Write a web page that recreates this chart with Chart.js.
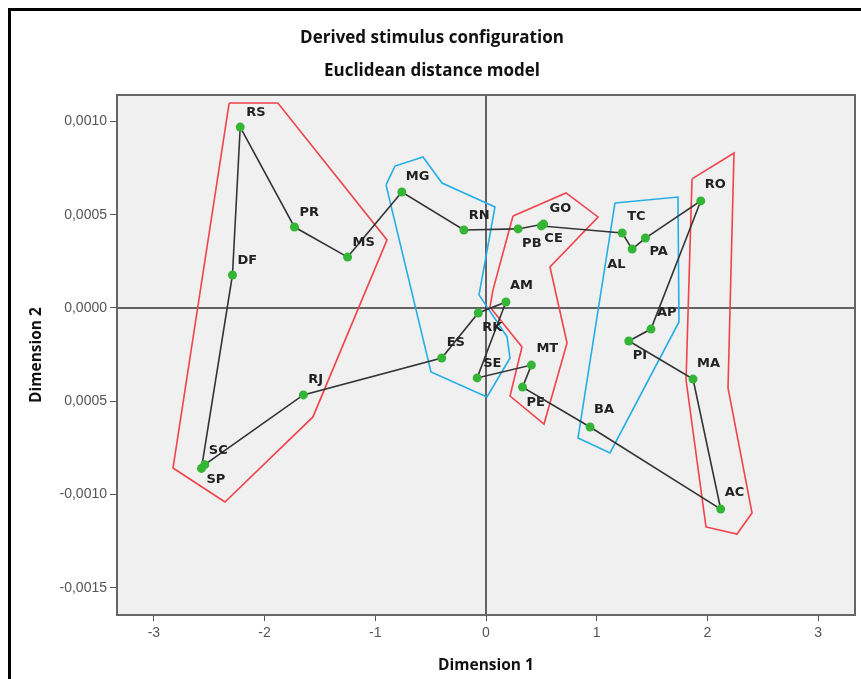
<!DOCTYPE html>
<html>
<head>
<meta charset="utf-8">
<script src="https://cdn.jsdelivr.net/npm/chart.js@4.4.1/dist/chart.umd.min.js"></script>
<style>
  html, body { margin: 0; padding: 0; background: #fff; overflow: hidden; }
  #wrap { position: relative; width: 861px; height: 679px; }
  #frame { position: absolute; left: 8px; top: 8px; width: 900px; height: 720px;
           border-left: 3px solid #000; border-top: 3px solid #000; pointer-events: none; }
  canvas { position: absolute; left: 0; top: 0; }
</style>
</head>
<body>
<div id="wrap">
  <canvas id="chart" width="861" height="679"></canvas>
  <div id="frame"></div>
</div>
<script>
// stimulus names and their coordinates (dimension 1, dimension 2)
const names = ["RS", "DF", "PR", "MS", "MG", "RN", "PB", "GO", "CE", "TC", "AL", "PA", "RO", "AP",
               "PI", "MA", "AC", "BA", "PE", "MT", "SE", "AM", "RK", "ES", "RJ", "SC", "SP"];
const dim1 = [-2.22, -2.29, -1.73, -1.25, -0.76, -0.20, 0.29, 0.52, 0.50, 1.23, 1.32, 1.44, 1.94, 1.49,
              1.29, 1.87, 2.12, 0.94, 0.33, 0.41, -0.08, 0.18, -0.07, -0.40, -1.65, -2.54, -2.57];
const dim2 = [0.00097, 0.000177, 0.000434, 0.000273, 0.000622, 0.000418, 0.000424, 0.00045, 0.00044,
              0.000402, 0.000316, 0.000375, 0.000574, -0.000113, -0.000177, -0.000381, -0.001078,
              -0.000638, -0.000424, -0.000306, -0.000375, 0.000032, -0.000027, -0.000268, -0.000466,
              -0.00084, -0.00086];

// order in which the black line joins the points
const pathOrder = ["RS", "PR", "MS", "MG", "RN", "PB", "GO", "CE", "TC", "AL", "PA", "RO", "AP", "PI",
                   "MA", "AC", "BA", "PE", "MT", "SE", "AM", "RK", "ES", "RJ", "SC", "SP", "DF", "RS"];

// hand drawn groupings (vertices in data units)
const redLeft = [[-2.32, 0.001099], [-1.88, 0.001099], [-0.894, 0.000365], [-1.563, -0.000584],
                 [-2.358, -0.00104], [-2.827, -0.000858]];
const blueLeft = [[-0.903, 0.00066], [-0.822, 0.000761], [-0.569, 0.00081], [-0.397, 0.00067],
                  [0.081, 0.000542], [-0.063, 0.00007], [0.19, -0.000155], [0.217, -0.000268],
                  [0.009, -0.000477], [-0.497, -0.000343]];
const redMid = [[0.244, 0.000493], [0.723, 0.000617], [1.012, 0.000488], [0.578, 0.00022],
                [0.732, -0.000188], [0.524, -0.000622], [0.217, -0.000472], [0.325, -0.000209],
                [0.036, 0.000005], [0.063, 0.000097]];
const blueRight = [[1.165, 0.000563], [1.734, 0.000595], [1.743, -0.000075], [1.12, -0.000777],
                   [0.831, -0.000697]];
const redRight = [[1.861, 0.000692], [2.24, 0.000831], [2.186, -0.000429], [2.403, -0.001099],
                  [2.267, -0.001212], [1.987, -0.001174], [1.807, -0.000386]];

// axis ticks
const xTickValues = [-3, -2, -1, 0, 1, 2, 3];
const xTickLabels = ["-3", "-2", "-1", "0", "1", "2", "3"];
const yTickValues = [0.001, 0.0005, 0, -0.0005, -0.001, -0.0015];
const yTickLabels = ["0,0010", "0,0005", "0,0000", "0,0005", "-0,0010", "-0,0015"];

// where each name sits relative to its point (pixels)
const labelOffset = {
  RS: [6, -14], DF: [5, -14], PR: [5, -14], MS: [5, -14], MG: [4, -15], RN: [5, -14], PB: [4, 15],
  GO: [6, -15], CE: [3, 13], TC: [5, -16], AL: [-25, 16], PA: [4, 14], RO: [4, -16], AP: [6, -16],
  PI: [4, 15], MA: [4, -15], AC: [4, -16], BA: [4, -17], PE: [4, 16], MT: [5, -16], SE: [6, -14],
  AM: [4, -16], RK: [4, 15], ES: [5, -15], RJ: [5, -15], SC: [4, -14], SP: [5, 11]
};

const points = names.map((n, i) => ({ x: dim1[i], y: dim2[i] }));
const pathPoints = pathOrder.map(n => points[names.indexOf(n)]);
const closed = poly => poly.concat([poly[0]]).map(p => ({ x: p[0], y: p[1] }));
const polyDataset = (poly, color) => ({
  data: closed(poly), showLine: true, borderColor: color, borderWidth: 1.6,
  pointRadius: 0, fill: false, tension: 0, order: 2
});

const decor = {
  id: "decor",
  beforeDraw(chart) {
    const { ctx, chartArea: a } = chart;
    ctx.save();
    ctx.fillStyle = "#f0f0f0";
    ctx.fillRect(a.left, a.top, a.right - a.left, a.bottom - a.top);
    ctx.fillStyle = "#111";
    ctx.textAlign = "center";
    ctx.textBaseline = "middle";
    ctx.font = "bold 17px 'Open Sans'";
    ctx.fillText("Derived stimulus configuration", 432, 38);
    ctx.fillText("Euclidean distance model", 432, 71);
    ctx.font = "bold 15.5px 'Open Sans'";
    ctx.fillText("Dimension 1", (a.left + a.right) / 2, 666);
    ctx.translate(37, (a.top + a.bottom) / 2);
    ctx.rotate(-Math.PI / 2);
    ctx.fillText("Dimension 2", 0, 0);
    ctx.restore();
  },
  beforeDatasetsDraw(chart) {
    const { ctx, chartArea: a, scales } = chart;
    const x0 = scales.x.getPixelForValue(0);
    const y0 = scales.y.getPixelForValue(0);
    ctx.save();
    ctx.strokeStyle = "#333";
    ctx.lineWidth = 1.5;
    ctx.beginPath();
    ctx.moveTo(x0, a.top); ctx.lineTo(x0, a.bottom);
    ctx.moveTo(a.left, y0); ctx.lineTo(a.right, y0);
    ctx.stroke();
    ctx.restore();
  },
  afterDatasetsDraw(chart) {
    const { ctx, chartArea: a } = chart;
    const meta = chart.getDatasetMeta(0);
    ctx.save();
    ctx.fillStyle = "#222";
    ctx.font = "bold 13px 'DejaVu Sans'";
    ctx.textAlign = "left";
    ctx.textBaseline = "middle";
    meta.data.forEach((el, i) => {
      const off = labelOffset[names[i]];
      ctx.fillText(names[i], el.x + off[0], el.y + off[1]);
    });
    ctx.strokeStyle = "#666";
    ctx.lineWidth = 2;
    ctx.strokeRect(a.left, a.top, a.right - a.left, a.bottom - a.top);
    ctx.restore();
  }
};

const tickFont = { family: "'Liberation Sans'", size: 14 };

new Chart(document.getElementById("chart").getContext("2d"), {
  type: "scatter",
  data: {
    datasets: [
      { data: points, pointRadius: 4.5, pointHoverRadius: 4.5, pointBackgroundColor: "#35b535",
        pointBorderWidth: 0, showLine: false, order: 0 },
      { data: pathPoints, showLine: true, borderColor: "#333", borderWidth: 1.6, pointRadius: 0,
        tension: 0, order: 1 },
      polyDataset(redLeft, "#f0434a"),
      polyDataset(blueLeft, "#25aee6"),
      polyDataset(redMid, "#f0434a"),
      polyDataset(blueRight, "#25aee6"),
      polyDataset(redRight, "#f0434a")
    ]
  },
  options: {
    responsive: false,
    animation: false,
    devicePixelRatio: 1,
    layout: { padding: { top: 95, right: 6, left: 0, bottom: 0 } },
    plugins: { legend: { display: false }, tooltip: { enabled: false }, title: { display: false } },
    scales: {
      x: {
        type: "linear", min: -3.333, max: 3.333,
        afterBuildTicks: s => { s.ticks = xTickValues.map(v => ({ value: v })); },
        afterFit: s => { s.height = 64; },
        ticks: { autoSkip: false, maxRotation: 0, color: "#555", font: tickFont, padding: 4,
                 callback: (v, i) => xTickLabels[i] },
        grid: { drawOnChartArea: false, drawTicks: true, tickLength: 6, color: "#555" },
        border: { display: false }
      },
      y: {
        type: "linear", min: -0.001646, max: 0.001142,
        afterBuildTicks: s => { s.ticks = yTickValues.map(v => ({ value: v })); },
        afterFit: s => { s.width = 117; },
        ticks: { autoSkip: false, color: "#555", font: tickFont, padding: 3,
                 callback: (v, i) => yTickLabels[i] },
        grid: { drawOnChartArea: false, drawTicks: true, tickLength: 7, color: "#555" },
        border: { display: false }
      }
    }
  },
  plugins: [decor]
});
</script>
</body>
</html>
